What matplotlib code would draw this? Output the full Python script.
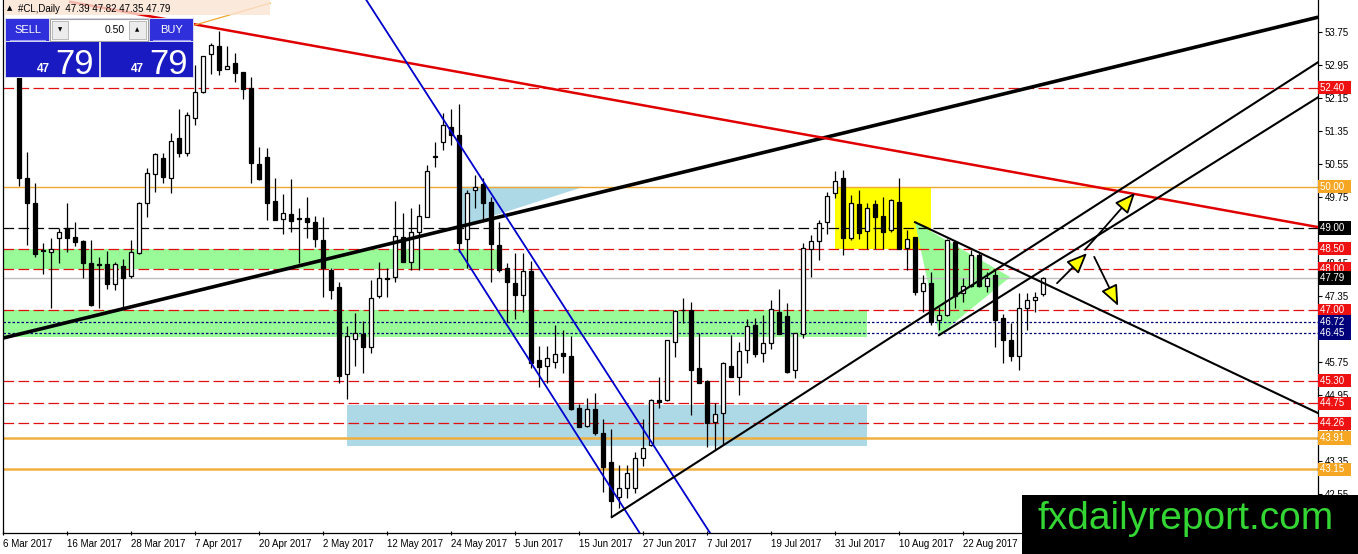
import matplotlib
matplotlib.use("Agg")
import matplotlib.pyplot as plt
from matplotlib.patches import Rectangle, Polygon, FancyArrowPatch, ArrowStyle

plt.rcParams['font.family'] = ['Liberation Sans', 'DejaVu Sans']

# ---------------- data ----------------
symbol = "#CL,Daily"
header_ohlc = [47.39, 47.82, 47.35, 47.79]
first_bar = 2
opens = [53.10, 50.21, 49.60, 48.46, 48.42, 48.76, 49.00, 48.78, 48.68, 48.15,
         48.12, 48.13, 47.64, 48.08, 47.84, 48.39, 49.60, 50.31, 50.70, 50.21,
         51.18, 50.82, 51.66, 52.30, 53.22, 53.41, 52.85, 53.00, 52.78, 52.39,
         50.55, 50.72, 49.65, 49.22, 49.34, 49.23, 49.24, 49.14, 48.71, 47.98,
         47.57, 45.46, 46.31, 46.43, 46.11, 47.35, 47.77, 47.81, 48.78, 48.17,
         48.90, 49.27, 50.73, 51.08, 51.45, 51.25, 48.73, 49.92, 50.06, 49.63,
         48.59, 48.03, 47.66, 47.37, 47.96, 45.80, 45.65, 45.75, 45.97, 45.89,
         44.63, 44.20, 44.61, 44.03, 43.33, 42.48, 42.70, 42.70, 43.42, 43.74,
         44.83, 44.83, 46.23, 47.00, 47.01, 45.60, 45.29, 44.29, 44.51, 45.65,
         45.39, 46.04, 46.65, 45.97, 46.21, 46.96, 46.87, 45.56, 46.43, 48.49,
         48.68, 49.14, 49.85, 50.21, 48.76, 49.58, 48.93, 49.58, 49.29, 48.95,
         49.63, 48.51, 48.78, 47.47, 47.66, 46.77, 46.89, 48.66, 47.42, 47.59,
         48.34, 47.59, 47.86, 46.82, 46.28, 45.89, 47.06, 47.25, 47.39]
highs = [53.25, 50.84, 50.09, 48.64, 48.76, 49.00, 49.60, 49.14, 48.71, 48.71,
         48.30, 48.44, 48.17, 48.25, 48.71, 49.62, 50.45, 50.82, 50.82, 51.30,
         51.88, 51.81, 52.95, 53.17, 53.48, 53.77, 53.41, 53.24, 52.78, 52.66,
         50.96, 50.94, 50.21, 49.82, 50.19, 49.48, 49.75, 49.29, 49.27, 48.03,
         47.69, 46.62, 46.94, 46.74, 47.74, 48.17, 48.03, 49.65, 49.36, 49.48,
         49.58, 50.53, 51.08, 51.79, 51.88, 52.00, 49.92, 50.28, 50.21, 49.75,
         49.14, 48.15, 48.39, 48.39, 48.20, 46.14, 46.14, 46.65, 46.53, 46.38,
         44.73, 44.88, 45.00, 44.37, 44.13, 43.25, 43.25, 43.57, 44.37, 44.85,
         45.39, 46.28, 47.01, 47.30, 47.20, 46.45, 45.31, 44.76, 45.75, 46.40,
         46.23, 46.79, 46.82, 46.89, 47.25, 47.52, 47.18, 46.45, 48.64, 48.82,
         49.19, 49.87, 50.38, 50.40, 49.80, 49.92, 49.60, 49.68, 49.75, 49.70,
         50.21, 48.95, 48.78, 47.86, 47.93, 47.08, 48.73, 48.66, 47.79, 48.46,
         48.39, 47.93, 47.98, 46.91, 46.70, 47.42, 47.42, 47.45, 47.82]
lows = [50.02, 48.59, 48.30, 47.88, 47.06, 48.15, 48.42, 48.56, 47.79, 47.10,
        47.06, 47.52, 47.50, 47.06, 47.79, 48.38, 49.27, 49.87, 50.09, 49.85,
        50.72, 50.74, 51.50, 52.28, 52.73, 52.71, 52.85, 52.54, 52.13, 50.09,
        50.16, 49.19, 49.19, 48.85, 48.90, 48.15, 48.76, 48.54, 47.33, 47.28,
        45.24, 44.85, 45.65, 45.48, 45.97, 47.30, 47.33, 47.69, 48.17, 47.98,
        47.98, 49.27, 50.48, 50.89, 51.01, 48.42, 48.03, 49.48, 49.19, 47.69,
        47.93, 46.72, 46.79, 46.96, 45.60, 45.14, 45.24, 45.60, 45.48, 44.59,
        44.17, 44.17, 43.98, 42.60, 41.99, 42.21, 42.45, 42.57, 43.23, 43.72,
        44.63, 44.81, 45.87, 46.70, 44.46, 45.24, 43.69, 43.62, 43.74, 45.39,
        44.95, 45.73, 45.87, 45.75, 46.06, 46.43, 45.48, 45.36, 46.33, 47.81,
        48.22, 48.85, 49.73, 48.34, 48.71, 48.73, 48.49, 48.49, 48.49, 48.90,
        48.49, 47.98, 47.37, 46.96, 46.65, 46.53, 46.87, 47.06, 47.20, 47.57,
        47.57, 47.45, 46.11, 45.73, 45.77, 45.56, 46.53, 46.96, 47.35]
closes = [50.21, 49.60, 48.37, 48.44, 48.49, 48.90, 48.76, 48.66, 48.15, 47.13,
          48.10, 47.64, 48.13, 47.79, 48.42, 49.60, 50.33, 50.79, 50.24, 51.11,
          50.82, 51.74, 52.30, 53.17, 53.44, 52.83, 52.93, 52.76, 52.37, 50.57,
          50.19, 49.60, 49.19, 49.36, 49.17, 49.22, 49.14, 48.73, 48.03, 47.50,
          45.41, 46.38, 46.45, 46.11, 47.30, 47.79, 47.76, 48.80, 48.17, 48.90,
          49.29, 50.38, 50.74, 51.50, 51.25, 48.64, 49.85, 49.99, 49.60, 48.61,
          47.98, 47.69, 47.37, 47.96, 45.73, 45.63, 45.85, 45.94, 45.89, 44.61,
          44.17, 44.61, 44.03, 43.20, 42.38, 42.70, 43.06, 43.42, 43.66, 44.83,
          44.78, 46.28, 46.99, 47.01, 45.56, 45.24, 44.27, 44.49, 45.73, 45.39,
          46.02, 46.62, 45.94, 46.21, 47.03, 46.43, 45.51, 46.45, 48.51, 48.68,
          49.12, 49.77, 50.14, 48.76, 49.60, 48.88, 49.48, 49.27, 48.90, 49.68,
          48.49, 48.73, 47.45, 47.66, 46.72, 46.89, 48.71, 47.35, 47.59, 48.34,
          47.59, 47.79, 46.77, 46.28, 45.89, 47.06, 47.25, 47.33, 47.79]

date_labels = ["6 Mar 2017", "16 Mar 2017", "28 Mar 2017", "7 Apr 2017",
               "20 Apr 2017", "2 May 2017", "12 May 2017", "24 May 2017",
               "5 Jun 2017", "15 Jun 2017", "27 Jun 2017", "7 Jul 2017",
               "19 Jul 2017", "31 Jul 2017", "10 Aug 2017", "22 Aug 2017"]
date_step = 8

price_ticks = [53.75, 52.95, 52.15, 51.35, 50.55, 49.75, 48.95, 48.15,
               47.35, 46.55, 45.75, 44.95, 44.15, 43.35, 42.55]

red_levels = [52.40, 48.50, 48.00, 47.00, 45.30, 44.75, 44.26]
black_levels = [49.00]
orange_thin_levels = [50.00]
orange_thick_levels = [43.91, 43.15]
navy_levels = [46.72, 46.45]
last_price = 47.79

level_prices = [52.40, 50.00, 49.00, 48.50, 48.00, 47.79, 47.00, 46.72, 46.45,
                45.30, 44.75, 44.26, 43.91, 43.15]
level_colors = ["#ee1111", "#f5a623", "#000000", "#ee1111", "#ee1111", "#000000",
                "#ee1111", "#00007a", "#00007a", "#ee1111", "#ee1111", "#ee1111",
                "#f5a623", "#f5a623"]

# zones: (bar_from, bar_to, price_low, price_high)
green_zones = [(0, 62.1, 48.00, 48.50), (0, 108, 46.36, 47.00)]
blue_zone = (43, 108, 43.71, 44.72)
yellow_zone = (104, 116, 48.50, 50.00)
blue_triangle = [(57.4, 50.00), (72.6, 50.00), (57.4, 49.05)]
green_triangle = [(114.0, 49.14), (125.9, 47.81), (117.0, 46.40)]

# trend lines: (bar0, price0, bar1, price1)
thick_black_line = (0.0, 46.33, 164.4, 54.11)
red_line = (8.4, 54.48, 164.4, 49.02)
orange_short_line = (24.0, 53.92, 33.4, 54.45)
blue_lines = [(45.4, 54.53, 88.4, 41.60), (57.0, 48.47, 79.6, 41.60)]
thin_black_lines = [(76.1, 41.99, 164.4, 53.02),
                    (117.0, 46.40, 164.4, 52.17),
                    (114.0, 49.14, 164.4, 44.51)]
arrows = [(131.75, 47.66, 135.5, 48.39),
          (135.25, 48.47, 141.5, 49.85),
          (136.4, 48.30, 139.4, 47.11)]

# ---------------- figure ----------------
W, H = 1358, 554
fig = plt.figure(figsize=(W / 100, H / 100), dpi=100)
fig.patch.set_facecolor("white")
ax_left, ax_right, ax_bottom = 3, 1318, 533
ax = fig.add_axes([ax_left / W, (H - ax_bottom) / H, (ax_right - ax_left) / W, ax_bottom / H])
ax.set_xlim(0, (ax_right - ax_left) / 8.0)
ax.set_ylim(41.605, 54.526)
ax.set_facecolor("white")

# zones
for (k0, k1, p0, p1) in green_zones:
    ax.add_patch(Rectangle((k0, p0), k1 - k0, p1 - p0, fc="#98fb98", ec="none", zorder=1))
k0, k1, p0, p1 = blue_zone
ax.add_patch(Rectangle((k0, p0), k1 - k0, p1 - p0, fc="#add8e6", ec="none", zorder=1))
k0, k1, p0, p1 = yellow_zone
ax.add_patch(Rectangle((k0, p0), k1 - k0, p1 - p0, fc="#ffff00", ec="none", zorder=1))
ax.add_patch(Polygon(blue_triangle, closed=True, fc="#add8e6", ec="none", zorder=1))
ax.add_patch(Polygon(green_triangle, closed=True, fc="#98fb98", ec="none", zorder=1))

# horizontal levels
dash = (0, (8.5, 3.5))
for p in red_levels:
    ax.axhline(p, color="#e01010", lw=0.9, ls=dash, zorder=2)
for p in black_levels:
    ax.axhline(p, color="black", lw=0.9, ls=dash, zorder=2)
for p in orange_thin_levels:
    ax.axhline(p, color="#f0a830", lw=1.0, zorder=2)
for p in orange_thick_levels:
    ax.axhline(p, color="#f0b040", lw=1.8, zorder=2)
for p in navy_levels:
    ax.axhline(p, color="#00007a", lw=0.9, ls=(0, (2, 1.6)), zorder=2)
ax.axhline(last_price, color="#c0c0c0", lw=1.0, zorder=2)

# candles
for i, (o, h, l, c) in enumerate(zip(opens, highs, lows, closes)):
    k = first_bar + i
    ax.vlines(k, l, h, color="black", lw=0.9, zorder=4)
    bottom = min(o, c)
    height = max(abs(c - o), 0.015)
    fc = "white" if c >= o else "black"
    ax.add_patch(Rectangle((k - 0.3, bottom), 0.6, height, fc=fc, ec="black",
                           lw=0.9, zorder=5))

# trend lines
k0, p0, k1, p1 = thick_black_line
ax.plot([k0, k1], [p0, p1], color="black", lw=2.6, zorder=6, solid_capstyle="butt")
k0, p0, k1, p1 = red_line
ax.plot([k0, k1], [p0, p1], color="#e00000", lw=1.8, zorder=6)
k0, p0, k1, p1 = orange_short_line
ax.plot([k0, k1], [p0, p1], color="#f0a830", lw=0.9, zorder=6)
for (k0, p0, k1, p1) in blue_lines:
    ax.plot([k0, k1], [p0, p1], color="#0000cc", lw=1.3, zorder=6)
for (k0, p0, k1, p1) in thin_black_lines:
    ax.plot([k0, k1], [p0, p1], color="black", lw=1.5, zorder=6)

style = ArrowStyle("-|>", head_length=0.9, head_width=0.38)
for (k0, p0, k1, p1) in arrows:
    ax.add_patch(FancyArrowPatch((k0, p0), (k1, p1), arrowstyle=style, mutation_scale=14,
                                 fc="#ffff00", ec="black", lw=1.3, shrinkA=0, shrinkB=0,
                                 zorder=7))

# axes styling
for side in ["top"]:
    ax.spines[side].set_visible(False)
for side in ["left", "bottom", "right"]:
    ax.spines[side].set_color("black")
    ax.spines[side].set_linewidth(0.9)
ax.yaxis.tick_right()
ax.set_yticks(price_ticks)
ax.set_yticklabels([f"{p:.2f}" for p in price_ticks])
ax.tick_params(axis="y", length=3, width=0.8, pad=2, labelsize=7, colors="black")
ax.set_xticks([i * date_step for i in range(len(date_labels))])
ax.set_xticklabels(date_labels)
ax.tick_params(axis="x", length=3, width=0.8, pad=3, labelsize=7, direction="inout")
for lab in ax.get_xticklabels():
    lab.set_horizontalalignment("left")

# level labels on the price axis
ytr = ax.get_yaxis_transform()
for p, col in zip(level_prices, level_colors):
    ax.text(1.0013, p, f"{p:.2f}  ", transform=ytr, color="white", fontsize=7,
            va="center", ha="left", clip_on=False, zorder=20,
            bbox=dict(boxstyle="square,pad=0.18", fc=col, ec="none"))

# ---------------- overlay (trading panel, header, logo) ----------------
ov = fig.add_axes([0, 0, 1, 1])
ov.set_xlim(0, W)
ov.set_ylim(H, 0)
ov.axis("off")
ov.set_zorder(10)

ov.add_patch(Rectangle((4, 0), 266, 15, fc="#fbe4d4", ec="none", alpha=0.8))
ov.text(7, 8, "\u25B2", fontsize=5, va="center", ha="left", color="black",
        family=["DejaVu Sans"])
ov.text(18, 8.5, f"{symbol}  " + " ".join(f"{v:.2f}" for v in header_ohlc),
        fontsize=7, va="center", ha="left", color="black")

btn = "#2f2fdc"
big = "#1a1ac2"
ov.add_patch(Rectangle((5, 18), 189, 60, fc="#d8d8e8", ec="none"))
ov.add_patch(Rectangle((6, 19), 43, 22, fc=btn, ec="none"))
ov.plot([10, 45], [40, 40], color="#9a9aff", lw=0.8)
ov.text(27.5, 30, "SELL", color="white", fontsize=8, ha="center", va="center")
ov.add_patch(Rectangle((50, 19), 98, 22, fc="white", ec="#a0a0a0", lw=0.8))
ov.add_patch(Rectangle((52, 21), 16, 18, fc="#ececec", ec="#b0b0b0", lw=0.6))
ov.text(60, 30, "\u25BC", fontsize=4, ha="center", va="center", family=["DejaVu Sans"])
ov.add_patch(Rectangle((129, 21), 17, 18, fc="#ececec", ec="#b0b0b0", lw=0.6))
ov.text(137.5, 30, "\u25B2", fontsize=4, ha="center", va="center", family=["DejaVu Sans"])
ov.text(125, 30, "0.50", fontsize=7.5, ha="right", va="center", color="black")
ov.add_patch(Rectangle((150, 19), 43, 22, fc=btn, ec="none"))
ov.plot([153, 190], [40, 40], color="#9a9aff", lw=0.8)
ov.text(171.5, 30, "BUY", color="white", fontsize=8, ha="center", va="center")
ov.add_patch(Rectangle((6, 42), 93, 35, fc=big, ec="none"))
ov.add_patch(Rectangle((101, 42), 92, 35, fc=big, ec="none"))
price_big = f"{header_ohlc[3]:.2f}"
ov.text(50, 72, price_big[:2], color="white", fontsize=8.5, ha="right", va="baseline",
        weight="bold")
ov.text(55, 74, price_big[3:], color="white", fontsize=25, ha="left", va="baseline",
        family=["Liberation Sans Narrow", "Liberation Sans"])
ov.text(144, 72, price_big[:2], color="white", fontsize=8.5, ha="right", va="baseline",
        weight="bold")
ov.text(149, 74, price_big[3:], color="white", fontsize=25, ha="left", va="baseline",
        family=["Liberation Sans Narrow", "Liberation Sans"])

ov.add_patch(Rectangle((1022, 495), 336, 59, fc="black", ec="none"))
ov.text(1037, 529, "fxdailyreport.com", color="#33d633", fontsize=28,
        ha="left", va="baseline", family=["Liberation Sans"])

fig.savefig("out.png", dpi=100, facecolor="white")
